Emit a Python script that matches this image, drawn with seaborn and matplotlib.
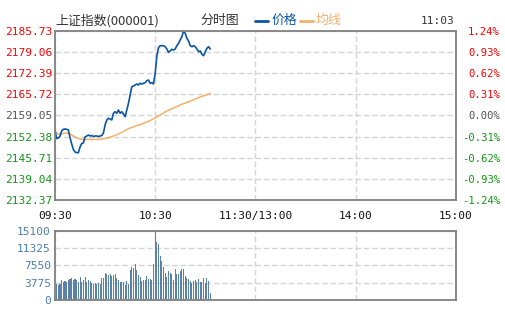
import matplotlib
matplotlib.use("Agg")
import matplotlib.pyplot as plt
import seaborn as sns
import pandas as pd
from matplotlib.lines import Line2D

# ---------------- data ----------------
price_minutes = list(range(0, 94))
price = [2154.25, 2151.79, 2151.95, 2152.58, 2154.16, 2154.69, 2154.79, 2154.69, 2154.47, 2152.10,
         2150.05, 2148.31, 2147.53, 2147.31, 2147.31, 2149.10, 2150.21, 2150.37, 2152.26, 2152.58,
         2152.89, 2152.58, 2152.74, 2152.42, 2152.58, 2152.58, 2152.42, 2152.58, 2152.74, 2153.52,
         2156.05, 2157.63, 2158.16, 2157.95, 2157.63, 2159.75, 2160.25, 2159.75, 2160.79, 2159.75,
         2160.25, 2159.52, 2158.67, 2160.79, 2162.90, 2165.52, 2168.14, 2168.36, 2168.68, 2169.00,
         2168.68, 2169.22, 2169.00, 2169.22, 2169.41, 2170.04, 2170.26, 2169.22, 2169.41, 2169.00,
         2172.37, 2177.83, 2180.46, 2181.09, 2181.09, 2181.09, 2180.77, 2180.05, 2179.00, 2179.42,
         2179.95, 2179.73, 2180.05, 2181.09, 2181.85, 2182.89, 2183.93, 2185.73, 2185.00, 2183.43,
         2182.57, 2181.09, 2180.77, 2181.09, 2180.77, 2180.05, 2179.19, 2179.42, 2178.37, 2177.93,
         2179.19, 2180.27, 2180.77, 2180.05]
avg_price = [2154.2, 2153.5, 2153.2, 2153.1, 2153.2, 2153.4, 2153.5, 2153.5, 2153.4, 2153.2,
             2152.9, 2152.6, 2152.3, 2152.0, 2151.8, 2151.6, 2151.5, 2151.5, 2151.5, 2151.5,
             2151.5, 2151.5, 2151.5, 2151.5, 2151.5, 2151.5, 2151.5, 2151.5, 2151.6, 2151.7,
             2151.8, 2151.9, 2152.0, 2152.2, 2152.4, 2152.6, 2152.8, 2153.0, 2153.2, 2153.5,
             2153.7, 2154.0, 2154.3, 2154.6, 2154.9, 2155.1, 2155.3, 2155.5, 2155.7, 2155.9,
             2156.0, 2156.1, 2156.4, 2156.6, 2156.8, 2157.0, 2157.2, 2157.5, 2157.7, 2158.0,
             2158.3, 2158.6, 2158.9, 2159.2, 2159.5, 2159.8, 2160.2, 2160.5, 2160.7, 2161.0,
             2161.2, 2161.4, 2161.7, 2161.9, 2162.1, 2162.4, 2162.6, 2162.8, 2163.0, 2163.2,
             2163.4, 2163.6, 2163.8, 2164.0, 2164.3, 2164.5, 2164.7, 2164.9, 2165.1, 2165.3,
             2165.4, 2165.6, 2165.8, 2166.0]
vol_minutes = list(range(1, 94))
volume = [3414, 3268, 3486, 4358, 3995, 4140, 3995, 4358, 4576, 4866,
          4358, 4576, 4358, 3995, 4939, 3995, 4358, 4939, 3995, 4358,
          4100, 3632, 3414, 3632, 3486, 3632, 3486, 4866, 4866, 5956,
          5593, 5447, 5593, 5302, 5447, 5593, 4721, 4358, 3995, 3995,
          3849, 3268, 4140, 3414, 6537, 7118, 6900, 7771, 6537, 5447,
          5084, 4140, 4358, 4358, 5229, 4576, 4576, 4358, 7771, 15100,
          12710, 12202, 9587, 8570, 7263, 5810, 5084, 6319, 5956, 5665,
          4358, 6755, 5665, 5665, 6319, 6755, 6755, 5229, 4866, 4503,
          4140, 3632, 4140, 4358, 3849, 4576, 3995, 3849, 4721, 3632,
          4866, 4200, 1453]

price_ticks = [2132.37, 2139.04, 2145.71, 2152.38, 2159.05, 2165.72, 2172.39, 2179.06, 2185.73]
pct_labels = ["-1.24%", "-0.93%", "-0.62%", "-0.31%", "0.00%", "0.31%", "0.62%", "0.93%", "1.24%"]
time_ticks = [0, 60, 120, 180, 240]
time_labels = ["09:30", "10:30", "11:30/13:00", "14:00", "15:00"]
vol_ticks = [0, 3775, 7550, 11325, 15100]

# ---------------- style ----------------
sns.set_theme(style="white")
plt.rcParams['font.family'] = ['DejaVu Sans Mono', 'DejaVu Sans']

BLUE = "#0a55a5"
ORANGE = "#f5b06a"
RED = "#ff0000"
GREEN = "#159515"
GRAY = "#555555"
SPINE = "#808080"
GRID = "#d4d4d4"
VOLC = "#5a82a8"
VOLT = "#4f7db0"

W, H = 505, 330
fig = plt.figure(figsize=(W / 100, H / 100), dpi=100)

ax = fig.add_axes([55 / W, 1 - 200 / H, 400.7 / W, 169 / H])
ax2 = fig.add_axes([55 / W, 1 - 300 / H, 400.7 / W, 69.3 / H])

df_p = pd.DataFrame({"minute": price_minutes, "price": price, "avg": avg_price})
sns.lineplot(data=df_p, x="minute", y="avg", ax=ax, color=ORANGE, lw=1.1, zorder=3)
sns.lineplot(data=df_p, x="minute", y="price", ax=ax, color=BLUE, lw=1.2, zorder=4)

df_v = pd.DataFrame({"minute": vol_minutes, "volume": volume})
sns.barplot(data=df_v, x="minute", y="volume", ax=ax2, native_scale=True, color=VOLC,
            width=0.65, linewidth=0, saturation=1, errorbar=None, zorder=3)

for a in (ax, ax2):
    a.set_xlim(0, 240)
    a.set_xticks(time_ticks)
    a.set_xlabel("")
    a.set_ylabel("")
    a.grid(True, color=GRID, linestyle=(0, (4, 2)), linewidth=1)
    a.set_axisbelow(True)
    for s in a.spines.values():
        s.set_color(SPINE)
        s.set_linewidth(1.3)
        s.set_zorder(5)

ax.set_ylim(price_ticks[0], price_ticks[-1])
ax.set_yticks(price_ticks)
ax.set_yticklabels([f"{v:.2f}" for v in price_ticks])
ax.set_xticklabels(time_labels)
ax.tick_params(axis='x', length=0, pad=8, labelsize=8, labelcolor="#111111")
ax.tick_params(axis='y', length=0, pad=2, labelsize=8)
ycolors = [GREEN] * 4 + [GRAY] + [RED] * 4
for lbl, c in zip(ax.get_yticklabels(), ycolors):
    lbl.set_color(c)

axr = ax.twinx()
axr.set_ylim(price_ticks[0], price_ticks[-1])
axr.set_yticks(price_ticks)
axr.set_yticklabels(pct_labels)
# right-align the percentage labels so that they end near x = 500 px
axr.tick_params(axis='y', length=0, pad=(500 - 455.7) * 72 / 100, labelsize=7.6)
for lbl, c in zip(axr.get_yticklabels(), ycolors):
    lbl.set_color(c)
    lbl.set_horizontalalignment('right')
for s in axr.spines.values():
    s.set_visible(False)

ax2.set_ylim(0, 15100)
ax2.set_yticks(vol_ticks)
ax2.set_yticklabels([str(v) for v in vol_ticks])
ax2.set_xticklabels([])
ax2.tick_params(axis='x', length=0)
ax2.tick_params(axis='y', length=0, pad=3, labelsize=8, labelcolor=VOLT)

# ---------------- header ----------------
cjk = ['Noto Sans CJK SC', 'DejaVu Sans']
ty = 1 - 20.5 / H
fig.text(55 / W, ty, "上证指数(000001)", family=cjk, fontsize=9.3, color="#333333", va='center')
fig.text(200 / W, ty, "分时图", family=cjk, fontsize=9.3, color="#333333", va='center')
fig.add_artist(Line2D([255 / W, 268 / W], [ty, ty], color=BLUE, lw=2, transform=fig.transFigure))
fig.text(271 / W, ty, "价格", family=cjk, fontsize=9.3, color=BLUE, va='center')
fig.add_artist(Line2D([300 / W, 313 / W], [ty, ty], color=ORANGE, lw=2, transform=fig.transFigure))
fig.text(316 / W, ty, "均线", family=cjk, fontsize=9.3, color=ORANGE, va='center')
fig.text(454 / W, ty, "11:03", fontsize=8, color="#333333", va='center', ha='right')

fig.savefig("out.png", dpi=100)
